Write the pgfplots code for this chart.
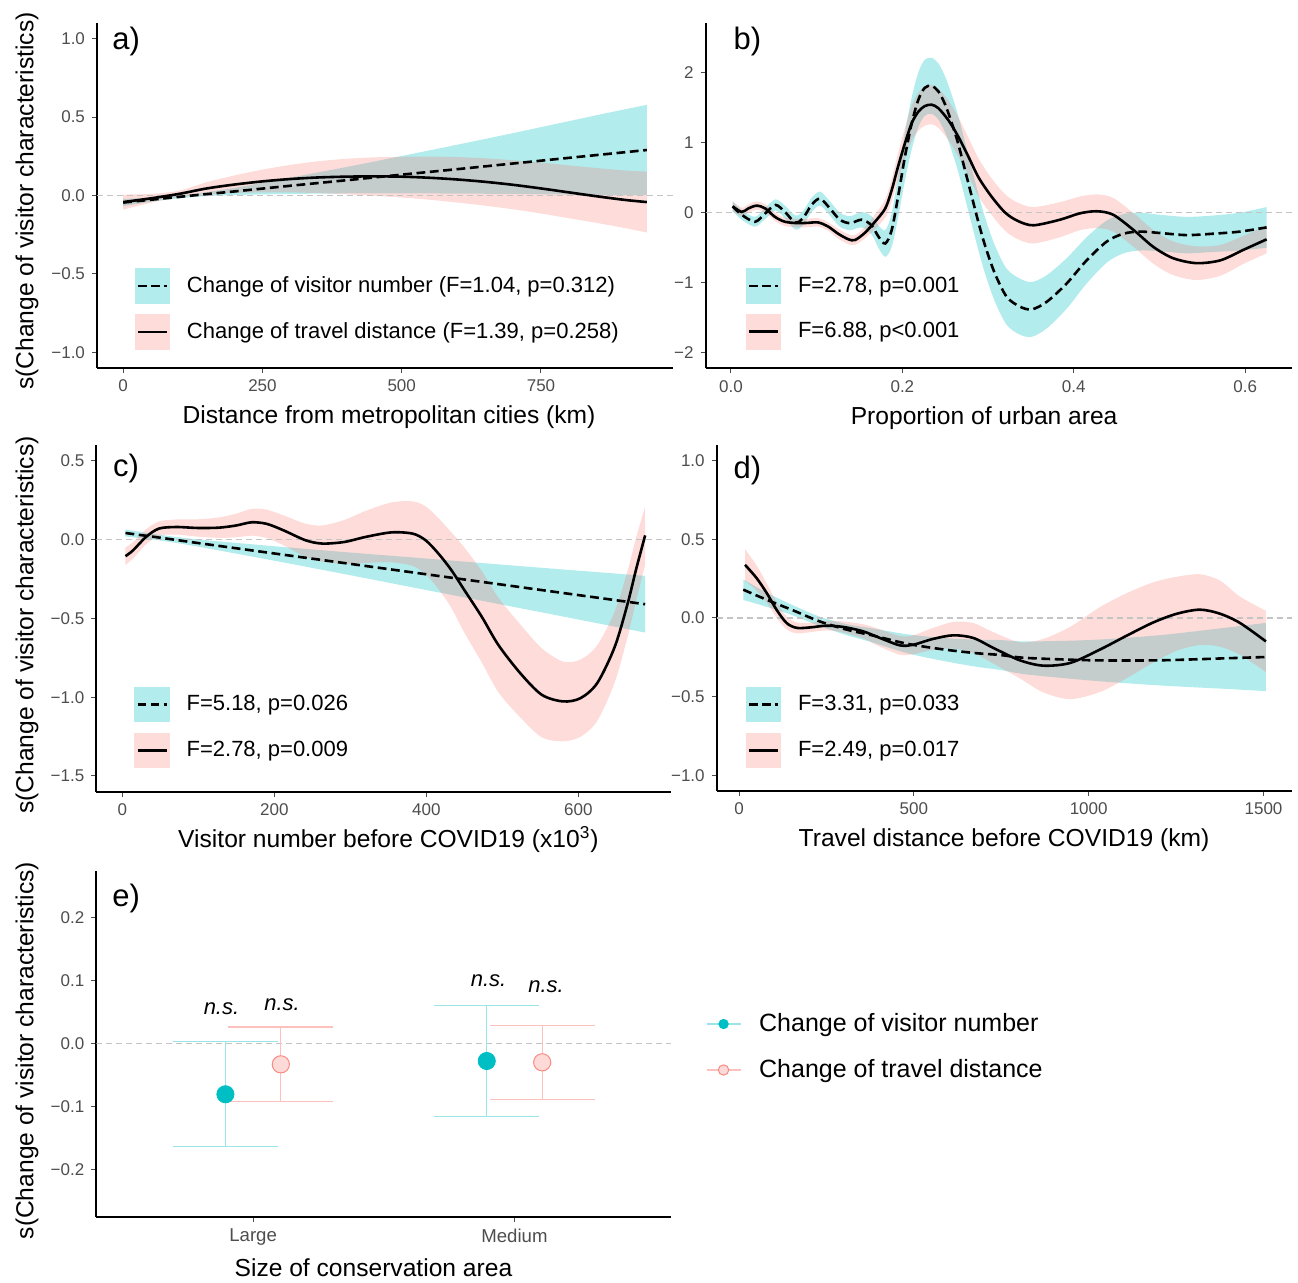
\documentclass[border=0pt]{standalone}
\usepackage{fontspec}
\setmainfont{Liberation Sans}
\usepackage{pgfplots}
\usepackage{pgfplotstable}
\usepgfplotslibrary{fillbetween}
\pgfplotsset{compat=1.18}
\definecolor{tealc}{HTML}{00BFC4}
\definecolor{pinkc}{HTML}{F8766D}
\definecolor{ticklab}{HTML}{4D4D4D}
\definecolor{zerol}{HTML}{C4C4C4}

% ---------- panel a ----------
\pgfplotstableread{
x y lo hi
0 -0.045 -0.068 -0.022
50 -0.027 -0.040 -0.014
100 -0.009 -0.018 0.000
150 0.009 -0.004 0.022
200 0.026 0.003 0.049
250 0.044 0.007 0.081
300 0.062 0.010 0.114
400 0.097 0.013 0.181
500 0.133 0.014 0.252
600 0.168 0.012 0.324
700 0.204 0.010 0.398
800 0.240 0.006 0.474
870 0.265 0.003 0.527
940 0.290 0.002 0.578
}\aV
\pgfplotstableread{
x y lo hi
0 -0.042 -0.090 0.006
50 -0.018 -0.046 0.010
100 0.010 -0.008 0.030
150 0.045 0.008 0.085
200 0.070 0.016 0.128
250 0.090 0.020 0.165
300 0.105 0.020 0.195
350 0.115 0.015 0.218
400 0.120 0.008 0.234
450 0.122 -0.002 0.243
500 0.120 -0.013 0.247
550 0.113 -0.027 0.248
600 0.102 -0.045 0.245
650 0.087 -0.065 0.237
700 0.068 -0.088 0.225
750 0.045 -0.115 0.210
800 0.020 -0.145 0.192
850 -0.005 -0.175 0.175
900 -0.028 -0.207 0.160
940 -0.042 -0.236 0.152
}\aT
% ---------- panel b ----------
\pgfplotstableread{
x y lo hi
0.002 0.09 0.02 0.16
0.0125 -0.03 -0.10 0.04
0.028 -0.13 -0.20 -0.06
0.040 -0.01 -0.09 0.07
0.052 0.11 0.03 0.19
0.063 0.01 -0.08 0.10
0.075 -0.14 -0.24 -0.04
0.084 -0.08 -0.18 0.02
0.094 0.11 0.01 0.21
0.104 0.20 0.10 0.30
0.1155 0.06 -0.04 0.16
0.127 -0.10 -0.20 0.00
0.139 -0.15 -0.25 -0.05
0.1525 -0.10 -0.21 0.01
0.164 -0.18 -0.31 -0.05
0.172 -0.34 -0.50 -0.18
0.180 -0.44 -0.63 -0.25
0.1875 -0.25 -0.49 -0.01
0.195 0.23 -0.07 0.53
0.203 0.80 0.46 1.14
0.211 1.28 0.91 1.65
0.2186 1.61 1.22 2.00
0.226 1.78 1.38 2.18
0.234 1.81 1.41 2.21
0.242 1.73 1.33 2.13
0.250 1.54 1.14 1.94
0.2576 1.28 0.88 1.68
0.265 0.99 0.59 1.39
0.273 0.61 0.21 1.01
0.281 0.23 -0.17 0.63
0.289 -0.15 -0.55 0.25
0.297 -0.49 -0.89 -0.09
0.308 -0.87 -1.27 -0.47
0.3217 -1.20 -1.60 -0.80
0.337 -1.34 -1.74 -0.94
0.351 -1.38 -1.77 -0.99
0.3686 -1.27 -1.65 -0.89
0.3917 -1.01 -1.37 -0.65
0.415 -0.68 -1.01 -0.35
0.4387 -0.41 -0.71 -0.11
0.458 -0.30 -0.58 -0.02
0.477 -0.27 -0.54 0.00
0.5006 -0.29 -0.55 -0.03
0.5317 -0.32 -0.58 -0.06
0.563 -0.30 -0.56 -0.04
0.594 -0.27 -0.54 0.00
0.625 -0.21 -0.50 0.08
}\bV
\pgfplotstableread{
x y lo hi
0.002 0.09 0.02 0.16
0.0125 0.01 -0.05 0.07
0.0202 0.06 0.00 0.12
0.030 0.10 0.04 0.16
0.040 0.06 0.00 0.12
0.0513 -0.06 -0.12 0.00
0.063 -0.13 -0.19 -0.07
0.0786 -0.15 -0.21 -0.09
0.090 -0.145 -0.205 -0.085
0.102 -0.14 -0.20 -0.08
0.1136 -0.20 -0.26 -0.14
0.125 -0.30 -0.37 -0.23
0.137 -0.38 -0.45 -0.31
0.1447 -0.39 -0.46 -0.32
0.156 -0.29 -0.37 -0.21
0.168 -0.13 -0.23 -0.03
0.180 0.06 -0.07 0.19
0.1875 0.32 0.16 0.48
0.195 0.66 0.47 0.85
0.203 0.99 0.77 1.21
0.211 1.28 1.03 1.53
0.2186 1.44 1.17 1.71
0.226 1.52 1.24 1.80
0.234 1.54 1.26 1.82
0.242 1.49 1.21 1.77
0.2536 1.32 1.04 1.60
0.265 1.09 0.81 1.37
0.277 0.80 0.53 1.07
0.289 0.50 0.23 0.77
0.304 0.23 -0.03 0.49
0.320 0.00 -0.26 0.26
0.335 -0.12 -0.38 0.14
0.353 -0.18 -0.44 0.08
0.384 -0.10 -0.35 0.15
0.407 -0.01 -0.25 0.23
0.427 0.02 -0.22 0.26
0.446 -0.03 -0.27 0.21
0.470 -0.25 -0.49 -0.01
0.493 -0.49 -0.73 -0.25
0.516 -0.65 -0.89 -0.41
0.543 -0.72 -0.96 -0.48
0.571 -0.68 -0.90 -0.46
0.598 -0.53 -0.73 -0.33
0.625 -0.38 -0.58 -0.18
}\bT
% ---------- panel c ----------
\pgfplotstableread{
x y lo hi
4 0.042 0.020 0.064
50 0.012 -0.006 0.030
100 -0.022 -0.045 0.001
200 -0.088 -0.134 -0.042
300 -0.154 -0.226 -0.082
400 -0.220 -0.320 -0.120
500 -0.286 -0.413 -0.159
600 -0.352 -0.507 -0.197
688 -0.410 -0.590 -0.230
}\cV
\pgfplotstableread{
x y lo hi
4 -0.105 -0.160 -0.050
14 -0.068 -0.120 -0.016
31 0.017 -0.031 0.065
48 0.070 0.025 0.115
71 0.080 0.032 0.128
99 0.074 0.019 0.129
127 0.076 0.011 0.141
150 0.090 0.015 0.165
170 0.110 0.025 0.195
190 0.100 0.010 0.190
212 0.059 -0.036 0.154
241 -0.004 -0.109 0.101
263 -0.025 -0.140 0.090
292 -0.015 -0.155 0.125
320 0.017 -0.148 0.182
354 0.046 -0.144 0.236
382 0.038 -0.167 0.243
399 -0.004 -0.219 0.211
416 -0.089 -0.314 0.136
433 -0.194 -0.434 0.046
450 -0.320 -0.590 -0.050
473 -0.490 -0.780 -0.200
495 -0.670 -0.970 -0.370
524 -0.850 -1.130 -0.540
552 -0.985 -1.255 -0.690
580 -1.027 -1.280 -0.774
603 -1.006 -1.251 -0.761
625 -0.910 -1.150 -0.670
648 -0.680 -0.905 -0.455
665 -0.405 -0.615 -0.195
676 -0.190 -0.390 0.010
688 0.027 -0.158 0.212
}\cT
% ---------- panel d ----------
\pgfplotstableread{
x y lo hi
12 0.180 0.115 0.245
79 0.116 0.071 0.161
155 0.048 0.016 0.080
231 -0.022 -0.052 0.008
308 -0.074 -0.109 -0.039
384 -0.112 -0.157 -0.067
479 -0.163 -0.223 -0.103
575 -0.197 -0.269 -0.125
670 -0.222 -0.307 -0.137
746 -0.235 -0.330 -0.140
823 -0.254 -0.359 -0.149
1013 -0.269 -0.399 -0.139
1204 -0.269 -0.429 -0.109
1395 -0.256 -0.451 -0.061
1507 -0.248 -0.465 -0.031
}\dV
\pgfplotstableread{
x y lo hi
17 0.338 0.238 0.438
50 0.254 0.174 0.334
79 0.159 0.099 0.219
107 0.053 0.003 0.103
136 -0.032 -0.072 0.008
165 -0.063 -0.098 -0.028
203 -0.060 -0.090 -0.030
250 -0.049 -0.079 -0.019
298 -0.057 -0.092 -0.022
355 -0.085 -0.130 -0.040
403 -0.127 -0.182 -0.072
460 -0.174 -0.234 -0.114
498 -0.170 -0.230 -0.110
555 -0.133 -0.203 -0.063
613 -0.110 -0.195 -0.025
670 -0.127 -0.222 -0.032
727 -0.190 -0.290 -0.090
803 -0.269 -0.384 -0.154
870 -0.303 -0.473 -0.133
947 -0.286 -0.516 -0.056
1032 -0.201 -0.471 0.069
1109 -0.112 -0.382 0.158
1185 -0.028 -0.283 0.227
1252 0.027 -0.208 0.262
1318 0.053 -0.172 0.278
1376 0.027 -0.183 0.237
1433 -0.032 -0.235 0.135
1507 -0.149 -0.344 0.046
}\dT

\tikzset{plab/.style={anchor=base west, font=\fontsize{15.5}{18}\selectfont, inner sep=0pt}}
\pgfplotsset{
  panel/.style={
    scale only axis,
    axis lines*=left,
    axis line style={-, line width=0.9pt, black},
    tick align=outside,
    major tick length=2.5pt,
    every tick/.style={line width=0.5pt, black!70},
    xticklabel style={font=\fontsize{8.5}{10}\selectfont, text=ticklab},
    yticklabel style={font=\fontsize{8.5}{10}\selectfont, text=ticklab},
    xlabel style={font=\fontsize{12.3}{14}\selectfont, anchor=base},
    ylabel style={font=\fontsize{12.3}{14}\selectfont, anchor=center},
    legend cell align=left,
  },
  smleg/.style={legend style={at={#1}, anchor=north west, draw=none, fill=none,
    inner sep=0pt, outer sep=0pt, row sep=5.15pt,
    font=\fontsize{11}{13}\selectfont, nodes={inner sep=0pt},
    /tikz/every odd column/.append style={column sep=8.3pt}}},
  vline/.style={black, line width=1.3pt, dash pattern=on 4.4pt off 2.3pt, smooth, forget plot},
  tline/.style={black, line width=1.3pt, smooth, forget plot},
  bnd/.style={draw=none, smooth, forget plot},
  zline/.style={zerol, line width=0.55pt, dash pattern=on 3pt off 2pt, forget plot},
  vband/.style={fill=tealc, fill opacity=0.3, draw=none, forget plot},
  tband/.style={fill=pinkc, fill opacity=0.26, draw=none, forget plot},
}
\newcommand{\vkey}{\addlegendimage{legend image code/.code={
  \path[draw=none, fill=tealc, fill opacity=0.3] (0pt,-8.9pt) rectangle (17.8pt,8.9pt);
  \path[draw=black, line width=1.3pt, dash pattern=on 4.2pt off 2.3pt] (1.7pt,0pt) -- (16.1pt,0pt);}}}
\newcommand{\tkey}{\addlegendimage{legend image code/.code={
  \path[draw=none, fill=pinkc, fill opacity=0.26] (0pt,-8.9pt) rectangle (17.8pt,8.9pt);
  \path[draw=black, line width=1.3pt, solid] (1.7pt,0pt) -- (16.1pt,0pt);}}}

\begin{document}
\begin{tikzpicture}

% ===== a =====
\begin{axis}[panel, at={(48.5pt,457pt)}, anchor=south west, width=288pt, height=172.5pt,
  xmin=-47, xmax=987, ymin=-1.1, ymax=1.1,
  xtick={0,250,500,750}, xticklabels={0,250,500,750},
  ytick={-1,-0.5,0,0.5,1}, yticklabels={−1.0,−0.5,0.0,0.5,1.0},
  xlabel={Distance from metropolitan cities (km)},
  xlabel style={at={(axis description cs:0.507,0)}, yshift=-28pt},
  ylabel={s(Change of visitor characteristics)},
  ylabel style={at={(axis description cs:-0.1215,0.484)}},
  smleg={(axis description cs:0.0656,0.289)}]
\addplot[zline] coordinates {(-47,0) (987,0)};
\addplot[tline] table[x=x,y=y]{\aT};
\addplot[vline] table[x=x,y=y]{\aV};
\addplot[bnd, name path=aVh] table[x=x,y=hi]{\aV};
\addplot[bnd, name path=aVl] table[x=x,y=lo]{\aV};
\addplot[bnd, name path=aTh] table[x=x,y=hi]{\aT};
\addplot[bnd, name path=aTl] table[x=x,y=lo]{\aT};
\addplot[vband] fill between[of=aVh and aVl];
\addplot[tband] fill between[of=aTh and aTl];
\node[plab] at (axis description cs:0.026,0.922) {a)};
\vkey \addlegendentry{Change of visitor number (F=1.04, p=0.312)}
\tkey \addlegendentry{Change of travel distance (F=1.39, p=0.258)}
\end{axis}

% ===== b =====
\begin{axis}[panel, at={(352.8pt,456.85pt)}, anchor=south west, width=293.2pt, height=172.8pt,
  xmin=-0.0296, xmax=0.6546, ymin=-2.22, ymax=2.71,
  xtick={0,0.2,0.4,0.6}, xticklabels={0.0,0.2,0.4,0.6},
  ytick={-2,-1,0,1,2}, yticklabels={−2,−1,0,1,2},
  xlabel={Proportion of urban area},
  xlabel style={at={(axis description cs:0.475,0)}, yshift=-28pt},
  smleg={(axis description cs:0.0686,0.290)}]
\addplot[zline] coordinates {(-0.0296,0) (0.6546,0)};
\addplot[tline] table[x=x,y=y]{\bT};
\addplot[vline] table[x=x,y=y]{\bV};
\addplot[bnd, name path=bVh] table[x=x,y=hi]{\bV};
\addplot[bnd, name path=bVl] table[x=x,y=lo]{\bV};
\addplot[bnd, name path=bTh] table[x=x,y=hi]{\bT};
\addplot[bnd, name path=bTl] table[x=x,y=lo]{\bT};
\addplot[vband] fill between[of=bVh and bVl];
\addplot[tband] fill between[of=bTh and bTl];
\node[plab] at (axis description cs:0.047,0.921) {b)};
\vkey \addlegendentry{F=2.78, p=0.001}
\tkey \addlegendentry{F=6.88, p<0.001}
\end{axis}

% ===== c =====
\begin{axis}[panel, at={(48.15pt,245.15pt)}, anchor=south west, width=287.5pt, height=173.3pt,
  xmin=-34.4, xmax=722.4, ymin=-1.6, ymax=0.6,
  xtick={0,200,400,600}, xticklabels={0,200,400,600},
  ytick={-1.5,-1,-0.5,0,0.5}, yticklabels={−1.5,−1.0,−0.5,0.0,0.5},
  xlabel={Visitor number before COVID19 (x10\textsuperscript{3})},
  xlabel style={at={(axis description cs:0.508,0)}, yshift=-28pt},
  ylabel={s(Change of visitor characteristics)},
  ylabel style={at={(axis description cs:-0.1205,0.481)}},
  smleg={(axis description cs:0.0663,0.303)}]
\addplot[zline] coordinates {(-34.4,0) (722.4,0)};
\addplot[tline] table[x=x,y=y]{\cT};
\addplot[vline] table[x=x,y=y]{\cV};
\addplot[bnd, name path=cVh] table[x=x,y=hi]{\cV};
\addplot[bnd, name path=cVl] table[x=x,y=lo]{\cV};
\addplot[bnd, name path=cTh] table[x=x,y=hi]{\cT};
\addplot[bnd, name path=cTl] table[x=x,y=lo]{\cT};
\addplot[vband] fill between[of=cVh and cVl];
\addplot[tband] fill between[of=cTh and cTl];
\node[plab] at (axis description cs:0.0285,0.909) {c)};
\vkey \addlegendentry{F=5.18, p=0.026}
\tkey \addlegendentry{F=2.78, p=0.009}
\end{axis}

% ===== d =====
\begin{axis}[panel, at={(358.35pt,245.5pt)}, anchor=south west, width=287.65pt, height=173pt,
  xmin=-64, xmax=1581.5, ymin=-1.1, ymax=1.1,
  xtick={0,500,1000,1500}, xticklabels={0,500,1000,1500},
  ytick={-1,-0.5,0,0.5,1}, yticklabels={−1.0,−0.5,0.0,0.5,1.0},
  xlabel={Travel distance before COVID19 (km)},
  xlabel style={at={(axis description cs:0.4994,0)}, yshift=-28pt},
  smleg={(axis description cs:0.0506,0.301)}]
\addplot[zline] coordinates {(-64,0) (1581.5,0)};
\addplot[tline] table[x=x,y=y]{\dT};
\addplot[vline] table[x=x,y=y]{\dV};
\addplot[bnd, name path=dVh] table[x=x,y=hi]{\dV};
\addplot[bnd, name path=dVl] table[x=x,y=lo]{\dV};
\addplot[bnd, name path=dTh] table[x=x,y=hi]{\dT};
\addplot[bnd, name path=dTl] table[x=x,y=lo]{\dT};
\addplot[vband] fill between[of=dVh and dVl];
\addplot[tband] fill between[of=dTh and dTl];
\node[plab] at (axis description cs:0.0287,0.904) {d)};
\vkey \addlegendentry{F=3.31, p=0.033}
\tkey \addlegendentry{F=2.49, p=0.017}
\end{axis}

% ===== e =====
\begin{axis}[panel, at={(48.15pt,32.65pt)}, anchor=south west, width=287.5pt, height=173pt,
  xmin=0.4, xmax=2.6, ymin=-0.275, ymax=0.275,
  xtick={1,2}, xticklabels={Large,Medium},
  xticklabel style={font=\fontsize{9.3}{11}\selectfont},
  ytick={-0.2,-0.1,0,0.1,0.2}, yticklabels={−0.2,−0.1,0.0,0.1,0.2},
  xlabel={Size of conservation area},
  xlabel style={at={(axis description cs:0.482,0)}, yshift=-30pt},
  ylabel={s(Change of visitor characteristics)},
  ylabel style={at={(axis description cs:-0.1205,0.48)}},
  legend style={at={(axis description cs:1.0603,0.6234)}, anchor=north west, draw=none, fill=none,
    inner sep=0pt, outer sep=0pt, row sep=0pt,
    font=\fontsize{12.5}{15}\selectfont, nodes={inner sep=0pt},
    /tikz/every odd column/.append style={column sep=9pt}}]
\addplot[zline] coordinates {(0.4,0) (2.6,0)};
\addplot[forget plot, only marks, mark=none,
  error bars/.cd, y dir=both, y explicit, error mark=|,
  error bar style={draw=tealc!40, line width=0.6pt},
  error mark options={draw=tealc!40, line width=0.6pt, mark size=26.2pt}]
  coordinates {(0.894,-0.0804) +- (0,0.0836) (1.894,-0.0275) +- (0,0.0884)};
\addplot[forget plot, only marks, mark=none,
  error bars/.cd, y dir=both, y explicit, error mark=|,
  error bar style={draw=pinkc!45, line width=0.6pt},
  error mark options={draw=pinkc!45, line width=0.6pt, mark size=26.2pt}]
  coordinates {(1.106,-0.0328) +- (0,0.0593) (2.106,-0.0296) +- (0,0.0585)};
\addplot[forget plot, only marks, mark=*, mark size=4.3pt, mark options={fill=tealc, draw=tealc}]
  coordinates {(0.894,-0.0804) (1.894,-0.0275)};
\addplot[forget plot, only marks, mark=*, mark size=4.3pt, mark options={fill=pinkc!27, draw=pinkc!85, line width=0.5pt}]
  coordinates {(1.106,-0.0328) (2.106,-0.0296)};
\addplot[forget plot, only marks, mark=none, nodes near coords, point meta=explicit symbolic,
  nodes near coords style={anchor=base, font=\fontsize{11}{13}\selectfont\itshape, inner sep=0pt}]
  coordinates {(0.879,0.0466) [n.s.] (1.111,0.053) [n.s.] (1.901,0.091) [n.s.] (2.121,0.082) [n.s.]};
\node[plab] at (axis description cs:0.0271,0.896) {e)};
\addlegendimage{legend image code/.code={
  \path[draw=none, fill=none] (0pt,-11.5pt) rectangle (17pt,11.5pt);
  \path[draw=tealc!40, line width=0.6pt] (0pt,0pt) -- (17pt,0pt);
  \path[draw=none, fill=tealc] (8.5pt,0pt) circle (2.6pt);}}
\addlegendentry{Change of visitor number}
\addlegendimage{legend image code/.code={
  \path[draw=none, fill=none] (0pt,-11.5pt) rectangle (17pt,11.5pt);
  \path[draw=pinkc!45, line width=0.6pt] (0pt,0pt) -- (17pt,0pt);
  \path[fill=pinkc!27, draw=pinkc!85, line width=0.5pt] (8.5pt,0pt) circle (2.6pt);}}
\addlegendentry{Change of travel distance}
\end{axis}
\pgfresetboundingbox
\useasboundingbox (0,0) rectangle (649pt,641pt);
\end{tikzpicture}
\end{document}
